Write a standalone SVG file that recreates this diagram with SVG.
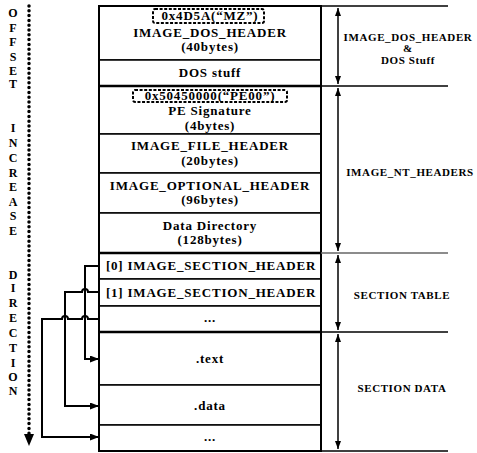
<svg xmlns="http://www.w3.org/2000/svg" width="477" height="453" viewBox="0 0 477 453">
<style>
text{font-family:"Liberation Serif","Times New Roman",serif;font-weight:bold;fill:#000}
.m{font-size:13px;text-anchor:middle;letter-spacing:0.8px}
.r{font-size:11px;text-anchor:middle;letter-spacing:0.6px}
.l{font-size:12px;text-anchor:middle}
.row{fill:#fff;stroke:#000;stroke-width:1.5}
.th{stroke:#000;stroke-width:2.5}
.dash{fill:none;stroke:#000;stroke-width:2;stroke-dasharray:3 1.6}
.conn{fill:none;stroke:#000;stroke-width:2}
.rl{stroke:#000;stroke-width:1.5}
.va{stroke:#000;stroke-width:1.5;marker-start:url(#ah);marker-end:url(#ah)}
</style>
<defs>
<marker id="arr" viewBox="0 0 9 7" refX="9" refY="3.5" markerWidth="9" markerHeight="7" markerUnits="userSpaceOnUse" orient="auto"><path d="M0,0 L9,3.5 L0,7 Z" fill="#000"/></marker>
<marker id="ah" viewBox="0 0 8 6" refX="8" refY="3" markerWidth="8" markerHeight="6" markerUnits="userSpaceOnUse" orient="auto-start-reverse"><path d="M0,0 L8,3 L0,6 Z" fill="#000"/></marker>
</defs>
<rect width="477" height="453" fill="#fff"/>

<g id="offset-axis">
<line x1="29" y1="6" x2="29" y2="434" stroke="#000" stroke-width="3.5" stroke-linecap="round" stroke-dasharray="0 4.8"/>
<path d="M24,434 L34,434 L29,446 Z" fill="#000"/>
<text class="l" x="13" y="17">O</text>
<text class="l" x="13" y="32">F</text>
<text class="l" x="13" y="46">F</text>
<text class="l" x="13" y="61">S</text>
<text class="l" x="13" y="75">E</text>
<text class="l" x="13" y="88">T</text>
<text class="l" x="13" y="132">I</text>
<text class="l" x="13" y="147">N</text>
<text class="l" x="13" y="162">C</text>
<text class="l" x="13" y="177">R</text>
<text class="l" x="13" y="191">E</text>
<text class="l" x="13" y="206">A</text>
<text class="l" x="13" y="220">S</text>
<text class="l" x="13" y="235">E</text>
<text class="l" x="13" y="279">D</text>
<text class="l" x="13" y="292">I</text>
<text class="l" x="13" y="307">R</text>
<text class="l" x="13" y="322">E</text>
<text class="l" x="13" y="337">C</text>
<text class="l" x="13" y="352">T</text>
<text class="l" x="13" y="367">I</text>
<text class="l" x="13" y="381">O</text>
<text class="l" x="13" y="395">N</text>
</g>

<g id="dos-header">
<rect class="row" x="99" y="6" width="222" height="54"/>
<rect class="dash" x="153" y="9" width="111" height="14" rx="2"/>
<text class="m" x="210" y="20">0x4D5A(“MZ”)</text>
<text class="m" x="210" y="37">IMAGE_DOS_HEADER</text>
<text class="m" x="210" y="51">(40bytes)</text>
</g>
<g id="dos-stuff">
<rect class="row" x="99" y="60" width="222" height="26"/>
<text class="m" x="210" y="77">DOS stuff</text>
</g>
<g id="pe-signature">
<rect class="row" x="99" y="86" width="222" height="48"/>
<rect class="dash" x="133" y="90" width="154" height="12" rx="2"/>
<text class="m" x="210" y="100">0x50450000(“PE00”)</text>
<text class="m" x="210" y="115">PE Signature</text>
<text class="m" x="210" y="130">(4bytes)</text>
</g>
<g id="file-header">
<rect class="row" x="99" y="134" width="222" height="39"/>
<text class="m" x="210" y="150">IMAGE_FILE_HEADER</text>
<text class="m" x="210" y="165">(20bytes)</text>
</g>
<g id="optional-header">
<rect class="row" x="99" y="173" width="222" height="40"/>
<text class="m" x="210" y="190">IMAGE_OPTIONAL_HEADER</text>
<text class="m" x="210" y="204">(96bytes)</text>
</g>
<g id="data-directory">
<rect class="row" x="99" y="213" width="222" height="40"/>
<text class="m" x="210" y="230">Data Directory</text>
<text class="m" x="210" y="244">(128bytes)</text>
</g>
<g id="section-header-0">
<rect class="row" x="99" y="253" width="222" height="26"/>
<text class="m" x="211" y="270">[0] IMAGE_SECTION_HEADER</text>
</g>
<g id="section-header-1">
<rect class="row" x="99" y="279" width="222" height="27"/>
<text class="m" x="211" y="297">[1] IMAGE_SECTION_HEADER</text>
</g>
<g id="section-header-more">
<rect class="row" x="99" y="306" width="222" height="26"/>
<text class="m" x="210" y="322">...</text>
</g>
<g id="text-section">
<rect class="row" x="99" y="332" width="222" height="53"/>
<text class="m" x="210" y="363">.text</text>
</g>
<g id="data-section">
<rect class="row" x="99" y="385" width="222" height="40"/>
<text class="m" x="210" y="410">.data</text>
</g>
<g id="more-section">
<rect class="row" x="99" y="425" width="222" height="26"/>
<text class="m" x="210" y="441">...</text>
</g>
<g id="frame">
<rect x="99" y="6" width="222" height="445" fill="none" stroke="#000" stroke-width="2"/>
<line class="th" x1="99" y1="86" x2="321" y2="86"/>
<line class="th" x1="99" y1="253" x2="321" y2="253"/>
<line class="th" x1="99" y1="332" x2="321" y2="332"/>
</g>

<g id="connectors">
<path class="conn" d="M99,266 H85 V359 H99" marker-end="url(#arr)"/>
<path class="conn" d="M99,292 H88 a3,3 0 0 0 -6,0 H65 V406 H99" marker-end="url(#arr)"/>
<path class="conn" d="M99,319 H88 a3,3 0 0 0 -6,0 H68 a3,3 0 0 0 -6,0 H42 V437 H99" marker-end="url(#arr)"/>
</g>

<g id="region-markers">
<line class="rl" x1="321" y1="6" x2="448" y2="6"/>
<line class="rl" x1="321" y1="86" x2="448" y2="86"/>
<line x1="321" y1="253" x2="448" y2="253" stroke="#666" stroke-width="1.5"/>
<line class="rl" x1="321" y1="332" x2="448" y2="332"/>
<line class="rl" x1="321" y1="451" x2="448" y2="451"/>
<line class="va" x1="338" y1="8" x2="338" y2="84"/>
<line class="va" x1="338" y1="88" x2="338" y2="251"/>
<line class="va" x1="338" y1="255" x2="338" y2="330"/>
<line class="va" x1="338" y1="334" x2="338" y2="449"/>
</g>
<g id="label-dos">
<text class="r" x="408" y="41">IMAGE_DOS_HEADER</text>
<text class="r" x="408" y="52">&amp;</text>
<text class="r" x="408" y="64">DOS Stuff</text>
</g>
<g id="label-nt">
<text class="r" x="410" y="176">IMAGE_NT_HEADERS</text>
</g>
<g id="label-section-table">
<text class="r" x="402" y="299">SECTION TABLE</text>
</g>
<g id="label-section-data">
<text class="r" x="402" y="392">SECTION DATA</text>
</g>
</svg>
